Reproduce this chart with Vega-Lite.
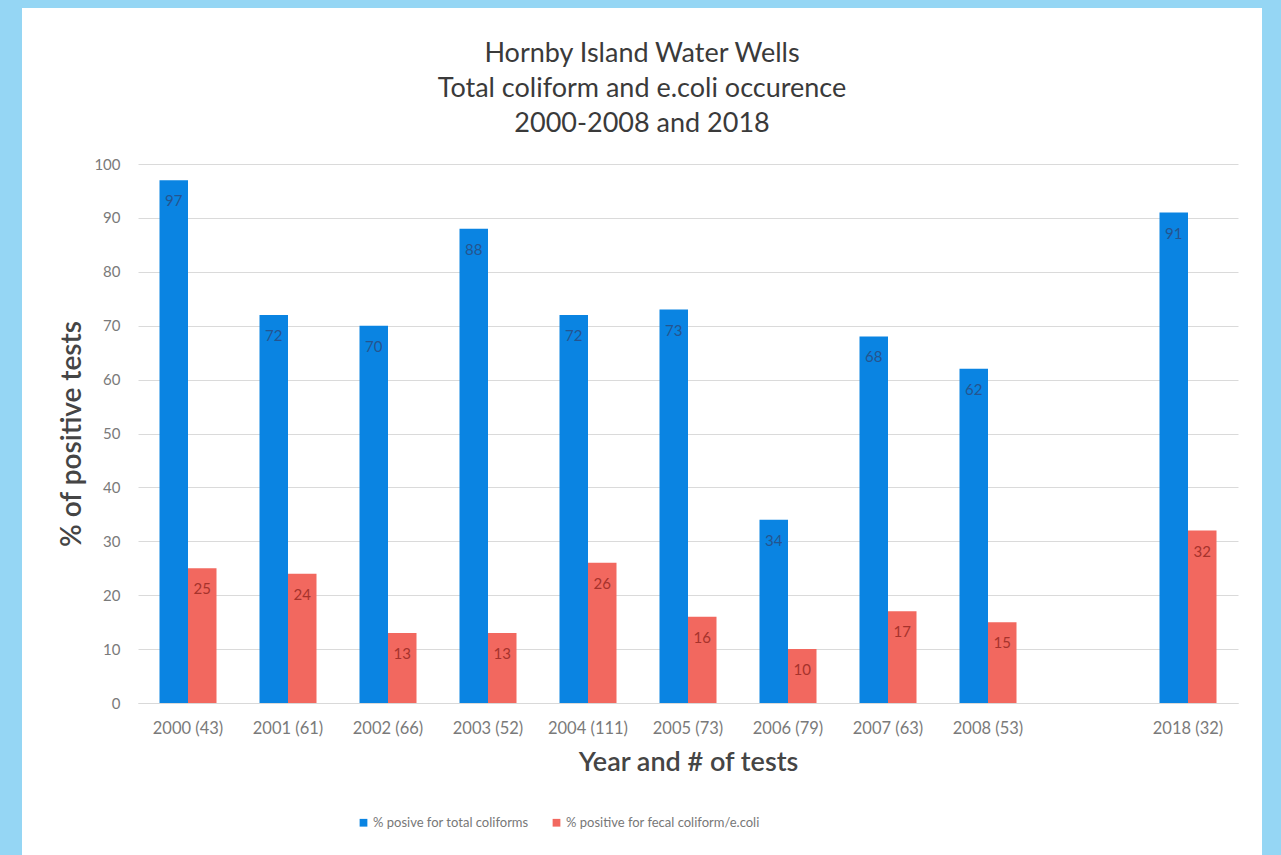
{
  "$schema": "https://vega.github.io/schema/vega-lite/v6.json",
  "width": 1100,
  "height": 539,
  "autosize": {"type": "none"},
  "padding": {"left": 138, "top": 164, "right": 43, "bottom": 152},
  "background": "white",
  "title": {
    "text": ["Hornby Island Water Wells", "Total coliform and e.coli occurence", "2000-2008 and 2018"],
    "font": "Lato",
    "fontSize": 27,
    "fontWeight": "normal",
    "color": "#3a3a3a",
    "lineHeight": 35,
    "anchor": "middle",
    "frame": "bounds",
    "offset": -174
  },
  "config": {"view": {"stroke": null}, "font": "Lato"},
  "layer": [
    {
      "data": {
        "values": [
          {"Year": "2000 (43)", "Series": "% posive for total coliforms", "Value": 97},
          {"Year": "2000 (43)", "Series": "% positive for fecal coliform/e.coli", "Value": 25},
          {"Year": "2001 (61)", "Series": "% posive for total coliforms", "Value": 72},
          {"Year": "2001 (61)", "Series": "% positive for fecal coliform/e.coli", "Value": 24},
          {"Year": "2002 (66)", "Series": "% posive for total coliforms", "Value": 70},
          {"Year": "2002 (66)", "Series": "% positive for fecal coliform/e.coli", "Value": 13},
          {"Year": "2003 (52)", "Series": "% posive for total coliforms", "Value": 88},
          {"Year": "2003 (52)", "Series": "% positive for fecal coliform/e.coli", "Value": 13},
          {"Year": "2004 (111)", "Series": "% posive for total coliforms", "Value": 72},
          {"Year": "2004 (111)", "Series": "% positive for fecal coliform/e.coli", "Value": 26},
          {"Year": "2005 (73)", "Series": "% posive for total coliforms", "Value": 73},
          {"Year": "2005 (73)", "Series": "% positive for fecal coliform/e.coli", "Value": 16},
          {"Year": "2006 (79)", "Series": "% posive for total coliforms", "Value": 34},
          {"Year": "2006 (79)", "Series": "% positive for fecal coliform/e.coli", "Value": 10},
          {"Year": "2007 (63)", "Series": "% posive for total coliforms", "Value": 68},
          {"Year": "2007 (63)", "Series": "% positive for fecal coliform/e.coli", "Value": 17},
          {"Year": "2008 (53)", "Series": "% posive for total coliforms", "Value": 62},
          {"Year": "2008 (53)", "Series": "% positive for fecal coliform/e.coli", "Value": 15},
          {"Year": "2018 (32)", "Series": "% posive for total coliforms", "Value": 91},
          {"Year": "2018 (32)", "Series": "% positive for fecal coliform/e.coli", "Value": 32}
        ]
      },
      "layer": [
        {
          "mark": {"type": "bar"},
          "encoding": {
            "x": {
              "field": "Year", "type": "nominal", "sort": null,
              "scale": {
                "domain": ["2000 (43)", "2001 (61)", "2002 (66)", "2003 (52)", "2004 (111)", "2005 (73)", "2006 (79)", "2007 (63)", "2008 (53)", " ", "2018 (32)"],
                "paddingInner": 0.43, "paddingOuter": 0.215
              },
              "axis": {
                "title": "Year and # of tests", "labelAngle": 0, "ticks": false,
                "domainColor": "#d9d9d9", "labelColor": "#7a7a7a", "labelFont": "Lato",
                "labelFontSize": 16.5, "labelPadding": 17, "titleFont": "Lato", "titleFontSize": 27,
                "titleFontWeight": 600, "titleColor": "#454545", "titlePadding": 13, "grid": false
              }
            },
            "xOffset": {
              "field": "Series", "type": "nominal",
              "scale": {"domain": ["% posive for total coliforms", "% positive for fecal coliform/e.coli"], "paddingInner": 0, "paddingOuter": 0}
            },
            "y": {
              "field": "Value", "type": "quantitative",
              "scale": {"domain": [0, 100], "nice": false},
              "axis": {
                "title": "% of positive tests", "values": [0, 10, 20, 30, 40, 50, 60, 70, 80, 90, 100],
                "domain": false, "ticks": false, "grid": true, "gridColor": "#dadada",
                "labelColor": "#7a7a7a", "labelFont": "Lato", "labelFontSize": 15, "labelPadding": 18,
                "titleFont": "Lato", "titleFontSize": 28, "titleFontWeight": 600, "titleColor": "#454545", "titlePadding": 7
              }
            },
            "color": {
              "field": "Series", "type": "nominal",
              "scale": {"domain": ["% posive for total coliforms", "% positive for fecal coliform/e.coli"], "range": ["#0a84e2", "#f2685f"]},
              "legend": {
                "title": null, "orient": "none", "legendX": 219, "legendY": 652, "direction": "horizontal",
                "symbolType": "square", "symbolSize": 60, "labelFont": "Lato", "labelFontSize": 13,
                "labelColor": "#777777", "columnPadding": 21, "symbolStrokeWidth": 0, "labelOffset": 3, "labelLimit": 400
              }
            }
          }
        },
        {
          "mark": {"type": "text", "baseline": "middle", "dy": 21, "fontSize": 15, "font": "Lato"},
          "encoding": {
            "x": {"field": "Year", "type": "nominal", "sort": null},
            "xOffset": {"field": "Series", "type": "nominal"},
            "y": {"field": "Value", "type": "quantitative"},
            "text": {"field": "Value", "type": "quantitative"},
            "color": {
              "condition": {"test": "datum.Series === '% posive for total coliforms'", "value": "#25548f"},
              "value": "#a6332c"
            }
          }
        }
      ]
    },
    {
      "data": {"values": [{}]},
      "mark": {"type": "rect", "filled": false, "stroke": "#95d6f4", "strokeWidth": 44},
      "encoding": {
        "x": {"datum": -0.12545, "type": "quantitative", "scale": {"domain": [0, 1], "nice": false, "zero": false}, "axis": null},
        "x2": {"datum": 1.04182},
        "y": {"datum": 1.3302, "type": "quantitative", "scale": {"domain": [0, 1], "nice": false, "zero": false}, "axis": null},
        "y2": {"datum": -0.3655}
      }
    }
  ],
  "resolve": {"scale": {"x": "independent", "y": "independent"}}
}
